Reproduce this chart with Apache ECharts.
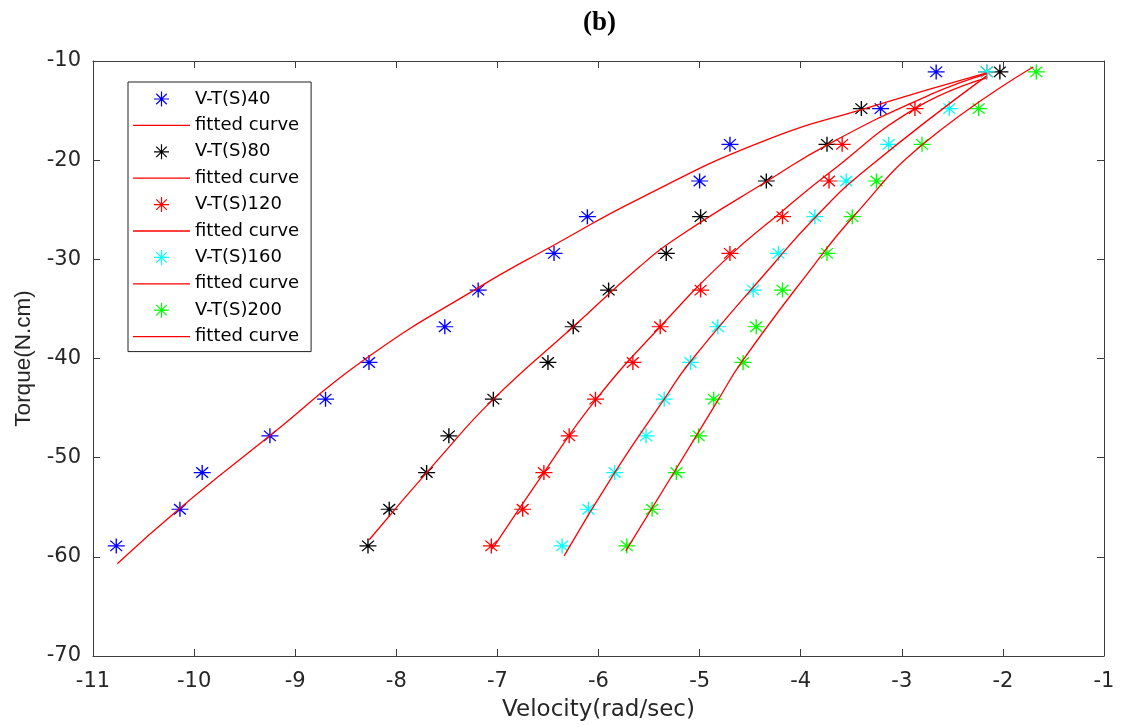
<!DOCTYPE html>
<html>
<head>
<meta charset="utf-8">
<title>(b) Velocity vs Torque</title>
<script src="https://cdn.jsdelivr.net/npm/echarts@6/dist/echarts.min.js"></script>
<style>
  html, body { margin: 0; padding: 0; background: #fff; }
  #chart { width: 1121px; height: 727px; }
</style>
</head>
<body>
<div id="chart"></div>
<script>
// Torque levels (N.cm) shared by every measured set, top to bottom
const torque = [-11.1, -14.8, -18.4, -22.1, -25.7, -29.4, -33.1, -36.8, -40.4, -44.1, -47.8, -51.5, -55.2, -58.9];

// Measured velocity (rad/sec) at each torque level
const velS40  = [-2.66, -3.21, -4.70, -5.00, -6.11, -6.44, -7.19, -7.52, -8.27, -8.70, -9.25, -9.92, -10.14, -10.77];
const velS80  = [-2.03, -3.40, -3.74, -4.34, -4.99, -5.33, -5.90, -6.25, -6.50, -7.04, -7.48, -7.70, -8.07, -8.28];
const velS120 = [-2.16, -2.87, -3.59, -3.72, -4.18, -4.70, -4.99, -5.39, -5.66, -6.03, -6.29, -6.54, -6.75, -7.06];
const velS160 = [-2.16, -2.53, -3.13, -3.55, -3.86, -4.22, -4.47, -4.82, -5.09, -5.35, -5.53, -5.84, -6.10, -6.36];
const velS200 = [-1.67, -2.24, -2.80, -3.25, -3.49, -3.74, -4.18, -4.44, -4.57, -4.86, -5.01, -5.23, -5.47, -5.72];

// Fitted curves: velocity / torque pairs along each curve
const fitS40Vel     = [-10.76, -10.14, -9.24, -8.30, -7.18, -6.43, -5.60, -4.40, -3.30, -2.16];
const fitS40Torque  = [-60.7, -55.1, -47.7, -40.0, -32.8, -28.5, -23.9, -18.2, -14.6, -11.2];
const fitS80Vel     = [-8.27, -7.57, -7.04, -6.25, -5.60, -5.19, -4.33, -3.71, -2.72, -2.16];
const fitS80Torque  = [-58.3, -50.0, -44.1, -36.8, -30.8, -27.6, -22.1, -18.3, -13.4, -11.3];
const fitS120Vel    = [-7.05, -6.54, -6.03, -5.39, -4.72, -4.20, -3.72, -2.87, -2.16];
const fitS120Torque = [-59.2, -51.5, -44.2, -36.8, -29.8, -25.3, -21.3, -14.8, -11.7];
const fitS160Vel    = [-6.34, -5.84, -5.35, -5.09, -4.28, -3.85, -3.36, -2.16];
const fitS160Torque = [-59.9, -51.5, -44.1, -40.3, -30.6, -25.7, -21.0, -11.5];
const fitS200Vel    = [-5.73, -5.26, -4.83, -4.58, -3.87, -3.48, -2.78, -1.70];
const fitS200Torque = [-59.4, -51.6, -44.4, -40.3, -30.6, -25.7, -18.3, -10.6];

// Axis ticks
const xTicks = { min: -11, max: -1, step: 1 };
const yTicks = { min: -70, max: -10, step: 10 };

const sets = [
  { name: 'V-T(S)40',  color: '#0000ff', vel: velS40,  fitVel: fitS40Vel,  fitTorque: fitS40Torque,  fitName: 'fit40' },
  { name: 'V-T(S)80',  color: '#000000', vel: velS80,  fitVel: fitS80Vel,  fitTorque: fitS80Torque,  fitName: 'fit80' },
  { name: 'V-T(S)120', color: '#ff0000', vel: velS120, fitVel: fitS120Vel, fitTorque: fitS120Torque, fitName: 'fit120' },
  { name: 'V-T(S)160', color: '#00ffff', vel: velS160, fitVel: fitS160Vel, fitTorque: fitS160Torque, fitName: 'fit160' },
  { name: 'V-T(S)200', color: '#00ff00', vel: velS200, fitVel: fitS200Vel, fitTorque: fitS200Torque, fitName: 'fit200' }
];

// Eight-armed asterisk marker built from thin filled bars
const STAR = 'path://M0,46L100,46L100,54L0,54Z' +
  'M46,0L54,0L54,100L46,100Z' +
  'M17.8,12.2L87.8,82.2L82.2,87.8L12.2,17.8Z' +
  'M82.2,12.2L87.8,17.8L17.8,87.8L12.2,82.2Z';
// Thin horizontal bar used as the legend key of a fitted curve
const BAR = 'path://M0,0L570,0L570,13L0,13Z';

const zip = (xs, ys) => xs.map((x, i) => [x, ys[i]]);

const axisColor = '#3c3c3c';
const labelColor = '#262626';

const series = [];
const legendData = [];
sets.forEach(s => {
  series.push({
    name: s.name,
    type: 'scatter',
    data: zip(s.vel, torque),
    symbol: STAR,
    symbolSize: [17, 15],
    itemStyle: { color: s.color, opacity: 1 },
    emphasis: { disabled: true }
  });
  series.push({
    name: s.fitName,
    type: 'line',
    data: zip(s.fitVel, s.fitTorque),
    symbol: 'none',
    showSymbol: false,
    smooth: 0.5,
    lineStyle: { color: '#ff0000', width: 1.3 },
    itemStyle: { color: '#ff0000' },
    emphasis: { disabled: true }
  });
  legendData.push({ name: s.name, icon: STAR });
  legendData.push({ name: s.fitName, icon: BAR });
});

const baseX = {
  type: 'value', min: xTicks.min, max: xTicks.max, interval: xTicks.step,
  axisLine: { show: true, onZero: false, lineStyle: { color: axisColor, width: 1 } },
  axisTick: { show: true, inside: true, length: 7, lineStyle: { color: axisColor, width: 1 } },
  splitLine: { show: false }
};
const baseY = {
  type: 'value', min: yTicks.min, max: yTicks.max, interval: yTicks.step,
  axisLine: { show: true, onZero: false, lineStyle: { color: axisColor, width: 1 } },
  axisTick: { show: true, inside: true, length: 7, lineStyle: { color: axisColor, width: 1 } },
  splitLine: { show: false }
};

const chart = echarts.init(document.getElementById('chart'), null, { renderer: 'canvas' });
chart.setOption({
  animation: false,
  backgroundColor: '#ffffff',
  title: {
    text: '(b)',
    left: 578,
    top: 5,
    textStyle: { fontFamily: 'Liberation Serif', fontWeight: 'bold', fontSize: 27, color: '#000' }
  },
  grid: { left: 93, right: 17, top: 61, bottom: 71, containLabel: false, outerBoundsMode: 'none' },
  xAxis: [
    Object.assign({}, baseX, {
      position: 'bottom',
      axisLabel: { fontFamily: 'DejaVu Sans', fontSize: 21, color: labelColor, margin: 15 },
      name: 'Velocity(rad/sec)',
      nameLocation: 'middle',
      nameGap: 43,
      nameTextStyle: { fontFamily: 'DejaVu Sans', fontSize: 23, color: labelColor }
    }),
    Object.assign({}, baseX, { position: 'top', axisLabel: { show: false } })
  ],
  yAxis: [
    Object.assign({}, baseY, {
      position: 'left',
      axisLabel: { fontFamily: 'DejaVu Sans', fontSize: 21, color: labelColor, margin: 12 },
      name: 'Torque(N.cm)',
      nameLocation: 'middle',
      nameGap: 58,
      nameTextStyle: { fontFamily: 'Liberation Sans', fontSize: 22.5, color: labelColor }
    }),
    Object.assign({}, baseY, { position: 'right', axisLabel: { show: false } })
  ],
  legend: {
    orient: 'vertical',
    left: 128,
    top: 82,
    padding: [8, 12, 6, 5],
    itemGap: 8.4,
    itemWidth: 57,
    itemHeight: 15,
    backgroundColor: '#ffffff',
    borderColor: '#222222',
    borderWidth: 1,
    borderRadius: 0,
    selectedMode: false,
    symbolKeepAspect: true,
    textStyle: { fontFamily: 'DejaVu Sans', fontSize: 18, color: '#000', lineHeight: 18 },
    formatter: n => (n.indexOf('fit') === 0 ? 'fitted curve' : n),
    data: legendData
  },
  series: series
});
</script>
</body>
</html>
